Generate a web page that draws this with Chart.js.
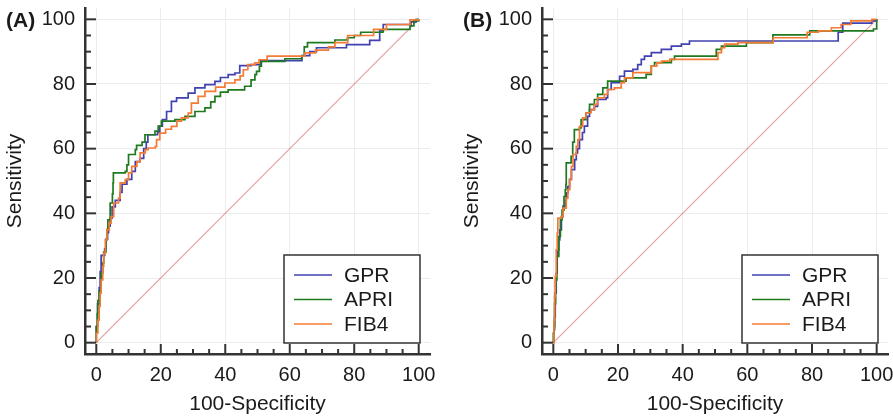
<!DOCTYPE html>
<html>
<head>
<meta charset="utf-8">
<script src="https://cdn.jsdelivr.net/npm/chart.js@4.4.0/dist/chart.umd.min.js"></script>
<style>
 body{margin:0;background:#fff;width:893px;height:417px;overflow:hidden;position:relative}
 .panel{position:absolute;top:0;height:417px}
 #wrapA{left:0;width:446px}
 #wrapB{left:457px;width:436px}
</style>
</head>
<body>
<div class="panel" id="wrapA"><canvas id="chartA"></canvas></div>
<div class="panel" id="wrapB"><canvas id="chartB"></canvas></div>
<script>
// ===== DATA =====
const tickVals=[0,20,40,60,80,100];
const minorTicks=[0,5,10,15,20,25,30,35,40,45,50,55,60,65,70,75,80,85,90,95,100];
const seriesNames=["GPR","APRI","FIB4"];
const refLine=[[0,0],[100,100]];

// panel A  [100-specificity, sensitivity]
const gprA=[[0,0],[0,5],[0.4,12],[0.9,17],[1.2,22],[1.5,27],[2.6,29],[3,32],[3.5,34],[3.8,36],[4.3,38.5],[4.9,42],[5.9,44],[7.4,46.5],[8,49],[9.5,50.5],[11,53],[12.1,56],[13.6,57],[14.7,60],[15.5,62],[16,64.3],[19,65],[19.7,67],[20.5,69],[21.8,71.5],[23.3,74.6],[24.9,75.7],[28.5,77.2],[30.6,78.8],[33.7,79.8],[36.8,80.8],[38.5,82],[40.9,82.9],[43,83.4],[44.5,85.7],[48,86],[51,87.2],[63.8,88.8],[66.2,90],[68.3,91.2],[77.6,92.2],[84.8,93.5],[87.9,96.4],[89,98.4],[97.6,99.2],[99.2,100],[100,100]];
const apriA=[[0,0],[0,5],[0.3,9],[0.5,13],[0.9,16],[1.5,21.5],[2,24.6],[2.3,28],[3,31.8],[3.3,35],[3.6,38],[4.3,43.2],[5,46],[5.2,49.4],[5.3,52.5],[9,53],[9.5,55],[10,58.2],[12.1,59.7],[12.5,61],[14.2,62],[15.1,64.3],[18.2,65.4],[19.2,67],[20.2,68.5],[24.4,69],[27.5,70],[30.6,71.5],[33.7,72.6],[35.5,74.5],[36.8,76.2],[38.5,77.5],[40.9,78.2],[46,79.3],[48,81.3],[49.2,82.9],[49.7,83.9],[50.6,85.5],[51.2,87],[58.5,87.8],[63.7,88.6],[64.5,91.5],[65.5,92.8],[74,93.6],[77.9,94.3],[80,95],[82,96],[88.9,96.9],[97.3,98],[98.5,99.5],[100,100]];
const fib4A=[[0,0],[0,3],[0.5,7],[0.9,11.2],[1.2,15.3],[1.5,19.4],[2,23.6],[2.3,27.7],[2.8,31.8],[3.3,34.9],[4,37],[4.6,39],[5.4,43.2],[6.9,44.7],[7.4,49.4],[9,50.4],[10,52.5],[11,54.5],[12.6,56],[13.6,58.7],[15.2,59.7],[16.1,60.2],[18.3,60.7],[18.7,62.8],[19.7,64.8],[21.5,66],[23.3,66.9],[25,68.5],[26.4,69.5],[28.5,71],[29.5,74.1],[31.6,76.2],[33.7,77.7],[37,79],[39.9,80.3],[43,81.3],[44.6,82.5],[45.6,84.4],[47,86],[49.2,86.5],[50.5,87.5],[53,88.6],[64.7,89.6],[68,90.5],[72,91.5],[74,92.8],[78,95],[86,96.9],[90,98.4],[97.3,99.8],[100,100]];

// panel B
const gprB=[[0,0],[0.2,4],[0.4,8],[0.6,15.3],[0.9,21.5],[1.2,28.7],[1.7,31.8],[2,34.9],[2.5,39],[3,42.2],[3.7,44],[4,46.3],[4.5,48.3],[5,50.5],[5.6,53.5],[6.6,56.6],[7.1,58.7],[7.5,60],[8.1,62.8],[9,65],[9.6,67],[10.6,70],[11.2,72.1],[12.7,73.1],[13.7,75.2],[16.3,75.7],[16.8,78.3],[17.9,80.4],[20.5,82.4],[22,84],[24.6,84.5],[26.1,86],[27.2,87.6],[28.2,88.6],[30.3,89.7],[33.4,90.7],[36.5,91.7],[39.6,92.3],[42.1,93.3],[88.1,96],[89.5,98.8],[98.5,99.5],[100,100]];
const apriB=[[0,0],[0,3],[0.2,5],[0.4,12],[0.7,19.4],[1.1,26.7],[1.7,32.9],[2.2,38],[2.7,41],[3.3,45.2],[3.7,47.3],[3.9,49],[4,55.6],[5.5,57.6],[6,62],[6.5,65.9],[8.1,66.4],[8.6,69],[10.1,71.1],[11.2,73.7],[12.7,75.2],[13.7,76.8],[15.3,78.8],[16.8,80.9],[22.5,81.9],[28.7,83],[30.3,85.5],[31.3,86.6],[36.5,87.6],[37.5,88.6],[50.4,90.7],[52,91.7],[59.7,92.8],[67.9,95.2],[79.3,96.4],[99,97],[100,100]];
const fib4B=[[0,0],[0.2,7],[0.4,14.3],[0.6,20.5],[0.9,28.7],[1.2,33.9],[1.4,38.5],[2.5,39],[3,41.6],[4,44.7],[4.5,47.3],[5.1,50.4],[5.6,54.5],[6.1,58.2],[7.1,60.7],[7.6,62.8],[8.1,66.9],[9.1,69.5],[10.1,71.1],[11.7,72.1],[12.7,73.7],[13.7,75.7],[15.8,76.8],[16.8,78.3],[18.9,78.8],[21,80.4],[22,81.9],[24.6,83.5],[30.3,85.5],[32,86.5],[33.5,87.1],[36,87.6],[50.9,89.7],[52,91.2],[53,92.3],[57.1,92.8],[68,94.3],[78.5,96],[82,96.4],[86,97.4],[89,98.4],[92,99.5],[98.5,100],[100,100]];

// ===== STYLE =====
const FONT="'Liberation Sans', Arial, sans-serif";
const TXT="#1a1a1a";
const colores=["#4141b0","#1f7a1f","#f47b35"];
const colorDiag="rgba(220,130,130,0.75)";
Chart.defaults.font.family=FONT;

const pts=a=>a.map(([x,y])=>({x,y}));

// ticks hacia dentro, leyenda y letra del panel
const decor={
 id:"decor",
 afterDraw(chart,args,opts){
  const {ctx,chartArea:a,scales:{x,y}}=chart;
  ctx.save();
  ctx.strokeStyle="#333";ctx.lineWidth=2;
  minorTicks.forEach(v=>{
   const major=tickVals.includes(v);
   const px=x.getPixelForValue(v);
   ctx.beginPath();ctx.moveTo(px,a.bottom);ctx.lineTo(px,a.bottom-(major?10:5));ctx.stroke();
   const py=y.getPixelForValue(v);
   ctx.beginPath();ctx.moveTo(a.left,py);ctx.lineTo(a.left+(major?11:6),py);ctx.stroke();
  });
  // leyenda
  const bx=a.right-146,by=a.bottom-99,bw=136,bh=88;
  ctx.fillStyle="#fff";ctx.fillRect(bx,by,bw,bh);
  ctx.lineWidth=1.5;ctx.strokeStyle="#333";ctx.strokeRect(bx,by,bw,bh);
  chart.data.datasets.filter(d=>d.label).forEach((d,i)=>{
   const ly=by+20+i*24.5;
   ctx.strokeStyle=d.borderColor;ctx.lineWidth=1.5;
   ctx.beginPath();ctx.moveTo(bx+10,ly);ctx.lineTo(bx+48,ly);ctx.stroke();
   ctx.fillStyle=TXT;ctx.font="21px "+FONT;ctx.textBaseline="middle";ctx.textAlign="left";
   ctx.fillText(d.label,bx+60,ly+1);
  });
  // letra
  ctx.fillStyle=TXT;ctx.font="bold 21px "+FONT;ctx.textBaseline="middle";ctx.textAlign="left";
  ctx.fillText(opts.letter,6,21);
  ctx.restore();
 }
};

function escala(titulo,esX){
 return {
  type:"linear",min:-3.5,max:103.5,
  afterBuildTicks:s=>{s.ticks=tickVals.map(v=>({value:v}));},
  afterFit:s=>{
   if(esX){s.height=63;s.paddingLeft=0;s.paddingRight=0;}
   else{s.width=85;s.paddingTop=0;s.paddingBottom=0;}
  },
  grid:{color:"#ececec",lineWidth:1,drawTicks:false},
  border:{color:"#333",width:2.5},
  ticks:{padding:esX?9:10,color:TXT,font:{size:20}},
  title:{display:true,text:titulo,color:TXT,font:{size:21},padding:{top:esX?4:3,bottom:0}}
 };
}

function crearPanel(id,letra,series,padDer){
 const datasets=series.map((s,i)=>({
  label:seriesNames[i],data:pts(s),borderColor:colores[i],borderWidth:1.7,
  stepped:true,pointRadius:0,fill:false,order:3-i
 }));
 datasets.push({label:"",data:pts(refLine),borderColor:colorDiag,borderWidth:1.2,pointRadius:0,order:9});
 return new Chart(document.getElementById(id),{
  type:"line",
  data:{datasets},
  options:{
   responsive:true,maintainAspectRatio:false,animation:false,devicePixelRatio:1,
   parsing:false,
   layout:{padding:{top:8,right:padDer,left:0,bottom:0}},
   scales:{x:escala("100-Specificity",true),y:escala("Sensitivity",false)},
   plugins:{legend:{display:false},tooltip:{enabled:false},decor:{letter:letra}}
  },
  plugins:[decor]
 });
}

crearPanel("chartA","(A)",[gprA,apriA,fib4A],16);
crearPanel("chartB","(B)",[gprB,apriB,fib4B],5);
</script>
</body>
</html>
